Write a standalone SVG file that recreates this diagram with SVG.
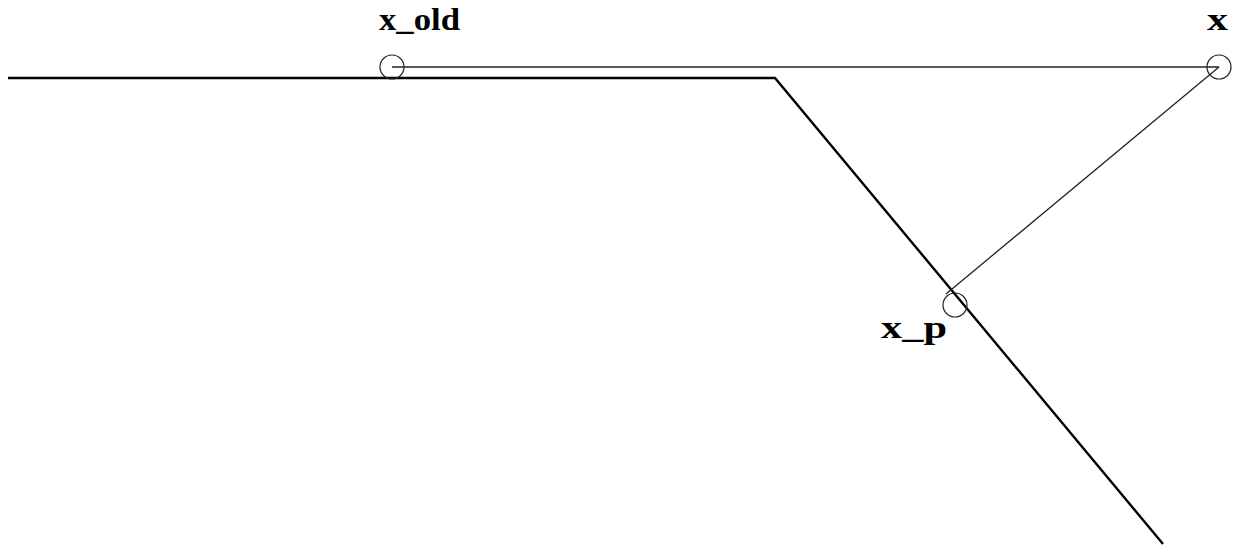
<svg xmlns="http://www.w3.org/2000/svg" width="1234" height="548" viewBox="0 0 1234 548">
<style>
.lbl{font-family:"Liberation Serif","DejaVu Serif",serif;font-weight:bold;font-size:32px;fill:#000}
.pt{fill:none;stroke:#222;stroke-width:1.2}
.thin{stroke:#222;stroke-width:1.3;fill:none}
.thick{stroke:#000;stroke-width:2.4;fill:none}
</style>
<rect width="1234" height="548" fill="#fff"/>
<g id="surface"><polyline class="thick" points="8,78 775,78 1163,544"/></g>
<g id="connectors">
<line class="thin" x1="392" y1="67" x2="1219" y2="67"/>
<line class="thin" x1="1219" y1="67" x2="946" y2="294"/>
</g>
<g id="x_old"><circle class="pt" cx="392" cy="67" r="12"/><text class="lbl" x="379" y="30" textLength="81" lengthAdjust="spacingAndGlyphs">x_old</text></g>
<g id="x"><circle class="pt" cx="1219" cy="67" r="12"/><text class="lbl" x="1207" y="30" textLength="21" lengthAdjust="spacingAndGlyphs">x</text></g>
<g id="x_p"><circle class="pt" cx="955" cy="305" r="12"/><text class="lbl" x="881" y="338" textLength="66" lengthAdjust="spacingAndGlyphs">x_p</text></g>
</svg>
